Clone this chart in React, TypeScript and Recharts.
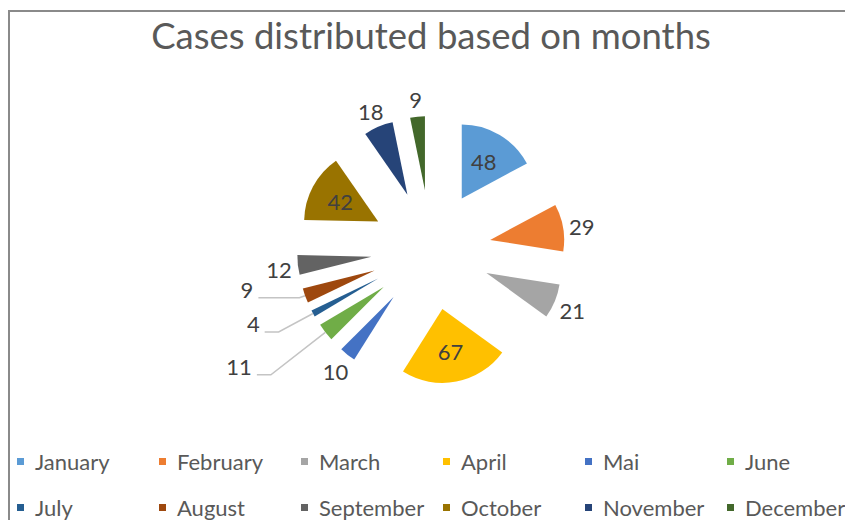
import { PieChart, Pie, Cell, Sector, Legend } from 'recharts';

const months = ['January', 'February', 'March', 'April', 'Mai', 'June', 'July', 'August', 'September', 'October', 'November', 'December'];
const cases = [48, 29, 21, 67, 10, 11, 4, 9, 12, 42, 18, 9];
const colors = ['#5B9BD5', '#ED7D31', '#A5A5A5', '#FFC000', '#4472C4', '#70AD47', '#255E91', '#9E480E', '#636363', '#997300', '#264478', '#43682B'];

// where each slice's value label goes
const insideLabels = ['January', 'April', 'October'];
const leaderLabels: Record<string, { elbow: number; tail: number }> = {
  June: { elbow: 203, tail: 14 },
  July: { elbow: 173, tail: 14 },
  August: { elbow: 140, tail: 41 },
};

const data = months.map((name, i) => ({ name, value: cases[i] }));

const FONT = 'Lato, "Open Sans", sans-serif';
const EXPLODE = 60;
const RAD = Math.PI / 180;

const polar = (cx: number, cy: number, r: number, angle: number) => ({
  x: cx + r * Math.cos(-angle * RAD),
  y: cy + r * Math.sin(-angle * RAD),
});

const ExplodedSlice = (props: any) => {
  const { cx, cy, midAngle, innerRadius, outerRadius, startAngle, endAngle, fill } = props;
  const p = polar(cx, cy, EXPLODE, midAngle);
  return (
    <Sector
      cx={p.x}
      cy={p.y}
      innerRadius={innerRadius}
      outerRadius={outerRadius}
      startAngle={startAngle}
      endAngle={endAngle}
      fill={fill}
      stroke="none"
    />
  );
};

const renderLabel = (props: any) => {
  const { cx, cy, midAngle, outerRadius, name, value } = props;
  const textStyle = { fontFamily: FONT, fontSize: 22, fill: '#404040' };
  if (insideLabels.includes(name)) {
    const p = polar(cx, cy, EXPLODE + outerRadius * 0.58, midAngle);
    return (
      <text x={p.x} y={p.y} textAnchor="middle" dominantBaseline="central" style={textStyle}>
        {value}
      </text>
    );
  }
  const lead = leaderLabels[name];
  if (lead) {
    const start = polar(cx, cy, EXPLODE + outerRadius, midAngle);
    const elbow = polar(cx, cy, lead.elbow, midAngle);
    const endX = elbow.x - lead.tail;
    return (
      <g>
        <polyline
          points={`${start.x},${start.y} ${elbow.x},${elbow.y} ${endX},${elbow.y}`}
          fill="none"
          stroke="#c4c4c4"
          strokeWidth={1.5}
        />
        <text x={endX - 5} y={elbow.y} textAnchor="end" style={textStyle}>
          {value}
        </text>
      </g>
    );
  }
  const p = polar(cx, cy, EXPLODE + outerRadius + 19, midAngle);
  return (
    <text x={p.x} y={p.y + 2} textAnchor="middle" dominantBaseline="central" style={textStyle}>
      {value}
    </text>
  );
};

const renderLegend = () => (
  <div style={{ display: 'flex', flexWrap: 'wrap', width: 860, fontFamily: FONT, fontSize: 22, color: '#595959' }}>
    {months.map((m, i) => (
      <div key={m} style={{ width: 142, height: 46, display: 'flex', alignItems: 'center' }}>
        <span style={{ width: 7, height: 7, background: colors[i], marginLeft: 9, marginRight: 11 }} />
        <span>{m}</span>
      </div>
    ))}
  </div>
);

export default function App() {
  return (
    <div style={{ position: 'relative', top: 2, width: 845, height: 512, overflow: 'hidden' }}>
      <div
        style={{
          position: 'absolute',
          inset: 0,
          borderTop: '2px solid #8a8a8a',
          borderLeft: '2px solid #8a8a8a',
          boxSizing: 'border-box',
        }}
      />
      <PieChart width={845} height={512} style={{ position: 'absolute', top: 0, left: 0 }}>
        <text x={423} y={25} textAnchor="middle" dominantBaseline="central" style={{ fontFamily: FONT, fontSize: 36.5, fill: '#595959' }}>
          Cases distributed based on months
        </text>
        <Pie
          data={data}
          dataKey="value"
          nameKey="name"
          cx={418}
          cy={235}
          outerRadius={74}
          startAngle={90}
          endAngle={-270}
          shape={ExplodedSlice}
          activeShape={ExplodedSlice}
          label={renderLabel}
          labelLine={false}
          stroke="none"
          isAnimationActive={false}
        >
          {data.map((d, i) => (
            <Cell key={d.name} fill={colors[i]} />
          ))}
        </Pie>
        <Legend content={renderLegend} wrapperStyle={{ top: 428, left: 0, width: 845 }} />
      </PieChart>
    </div>
  );
}
